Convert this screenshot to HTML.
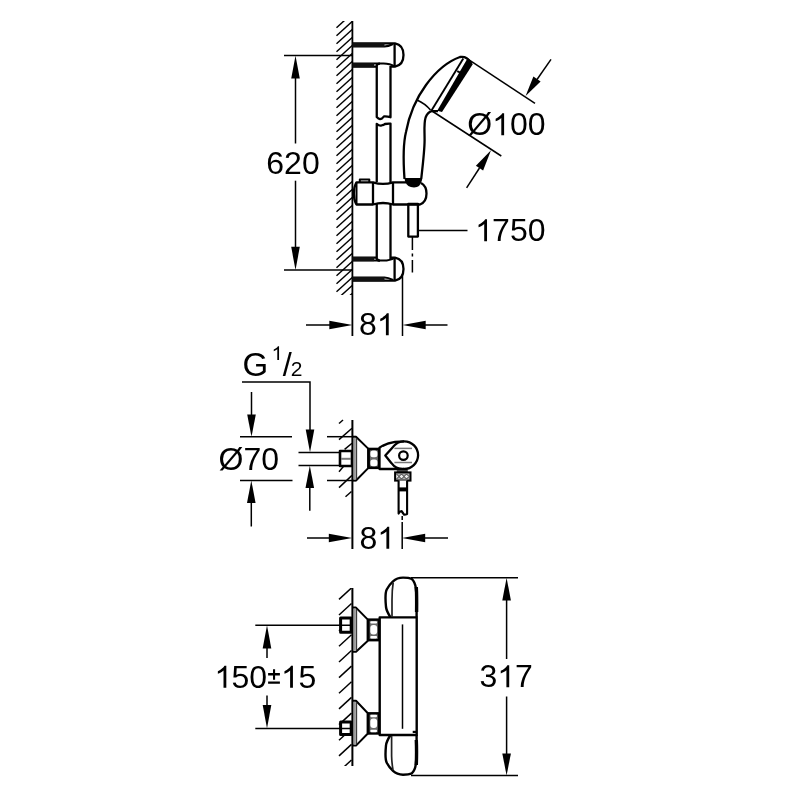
<!DOCTYPE html>
<html><head><meta charset="utf-8">
<style>
html,body{margin:0;padding:0;background:#fff;}
svg{display:block;will-change:transform;filter:blur(0.4px);}
text{font-family:"Liberation Sans",sans-serif;fill:#000;}
.d{stroke:#000;stroke-width:1.5;fill:none;}
.o{stroke:#000;stroke-width:2.3;fill:none;stroke-linejoin:round;}
.w{fill:#fff;}
.h{stroke:#000;stroke-width:1.45;fill:none;}
.a{fill:#000;stroke:none;}
.g{stroke:#777;stroke-width:1.5;fill:none;}
</style></head>
<body>
<svg width="800" height="800" viewBox="0 0 800 800">
<defs>
<clipPath id="hc1"><rect x="330" y="21" width="22.5" height="274"/></clipPath>
<clipPath id="hc3"><rect x="330" y="588" width="22.5" height="178"/></clipPath>
</defs>

<!-- ===== TOP: shower rail ===== -->
<g clip-path="url(#hc1)" class="h">
<line x1="336.5" y1="11.7" x2="352.5" y2="-2.8"/>
<line x1="336.5" y1="19.7" x2="352.5" y2="5.2"/>
<line x1="336.5" y1="27.7" x2="352.5" y2="13.2"/>
<line x1="336.5" y1="35.7" x2="352.5" y2="21.2"/>
<line x1="336.5" y1="43.7" x2="352.5" y2="29.2"/>
<line x1="336.5" y1="51.7" x2="352.5" y2="37.2"/>
<line x1="336.5" y1="59.7" x2="352.5" y2="45.2"/>
<line x1="336.5" y1="67.7" x2="352.5" y2="53.2"/>
<line x1="336.5" y1="75.7" x2="352.5" y2="61.2"/>
<line x1="336.5" y1="83.7" x2="352.5" y2="69.2"/>
<line x1="336.5" y1="91.7" x2="352.5" y2="77.2"/>
<line x1="336.5" y1="99.7" x2="352.5" y2="85.2"/>
<line x1="336.5" y1="107.7" x2="352.5" y2="93.2"/>
<line x1="336.5" y1="115.7" x2="352.5" y2="101.2"/>
<line x1="336.5" y1="123.7" x2="352.5" y2="109.2"/>
<line x1="336.5" y1="131.7" x2="352.5" y2="117.2"/>
<line x1="336.5" y1="139.7" x2="352.5" y2="125.2"/>
<line x1="336.5" y1="147.7" x2="352.5" y2="133.2"/>
<line x1="336.5" y1="155.7" x2="352.5" y2="141.2"/>
<line x1="336.5" y1="163.7" x2="352.5" y2="149.2"/>
<line x1="336.5" y1="171.7" x2="352.5" y2="157.2"/>
<line x1="336.5" y1="179.7" x2="352.5" y2="165.2"/>
<line x1="336.5" y1="187.7" x2="352.5" y2="173.2"/>
<line x1="336.5" y1="195.7" x2="352.5" y2="181.2"/>
<line x1="336.5" y1="203.7" x2="352.5" y2="189.2"/>
<line x1="336.5" y1="211.7" x2="352.5" y2="197.2"/>
<line x1="336.5" y1="219.7" x2="352.5" y2="205.2"/>
<line x1="336.5" y1="227.7" x2="352.5" y2="213.2"/>
<line x1="336.5" y1="235.7" x2="352.5" y2="221.2"/>
<line x1="336.5" y1="243.7" x2="352.5" y2="229.2"/>
<line x1="336.5" y1="251.7" x2="352.5" y2="237.2"/>
<line x1="336.5" y1="259.7" x2="352.5" y2="245.2"/>
<line x1="336.5" y1="267.7" x2="352.5" y2="253.2"/>
<line x1="336.5" y1="275.7" x2="352.5" y2="261.2"/>
<line x1="336.5" y1="283.7" x2="352.5" y2="269.2"/>
<line x1="336.5" y1="291.7" x2="352.5" y2="277.2"/>
<line x1="336.5" y1="299.7" x2="352.5" y2="285.2"/>
<line x1="336.5" y1="307.7" x2="352.5" y2="293.2"/>
</g>
<line class="o" x1="352.4" y1="21" x2="352.4" y2="336" style="stroke-width:1.8"/>

<!-- 620 dimension -->
<line class="d" x1="284" y1="55.4" x2="352" y2="55.4"/>
<line class="d" x1="284" y1="270" x2="352" y2="270"/>
<line class="d" x1="295.5" y1="70" x2="295.5" y2="143.5"/>
<line class="d" x1="295.5" y1="180.7" x2="295.5" y2="255"/>
<polygon class="a" points="295.5,55.4 291.2,78.5 299.8,78.5"/>
<polygon class="a" points="295.5,270 291.2,246.8 299.8,246.8"/>
<text x="266.3" y="173.8" font-size="32">620</text>

<!-- top bracket -->
<path class="o" d="M352.4,43.4 H395 Q403.5,45 403.5,55 Q403.5,65 395,66.6 H390.5 M376.75,66.6 H352.4"/>
<line class="o" x1="394.6" y1="43.4" x2="394.6" y2="66.6"/>
<path class="o" d="M352.4,46.6 H384.5 Q388,46.6 393,44" style="stroke-width:2"/>
<path class="o" d="M352.4,45 H384.5" style="stroke-width:4.2;stroke:#111"/>
<path class="o" d="M352.4,63.6 H383.5 Q390,63.6 394.6,66.6" style="stroke-width:2"/>
<path class="o" d="M352.4,65.1 H374" style="stroke-width:4.2;stroke:#111"/>

<!-- rail -->
<path class="o" d="M380,63.6 Q376.75,63.6 376.75,66 V117 Q378.5,119 380,119.2 Q382,119 384,116.4 Q387,116.2 390.5,117.2 V66"/>
<path class="o" d="M376.75,182 V123.8 Q379,125.8 381,125.6 Q383,125.3 385,124 Q388,123.4 390.5,123.6 V182"/>
<path class="o" d="M376.75,204 V258.5 Q377.5,260.6 380,260.6"/>
<line class="o" x1="390.5" y1="204" x2="390.5" y2="259.5"/>

<!-- bottom bracket -->
<path class="o" d="M376.75,257.6 H352.4 M390.5,257.6 H395 Q403.5,259.2 403.5,269 Q403.5,279 395,280.6 H352.4"/>
<line class="o" x1="394.6" y1="257.6" x2="394.6" y2="280.6"/>
<path class="o" d="M352.4,260.6 H383.5 Q390,260.6 394.6,257.6" style="stroke-width:2"/>
<path class="o" d="M352.4,259.1 H374" style="stroke-width:4.2;stroke:#111"/>
<path class="o" d="M352.4,277.5 H384.5 Q388,277.5 393,280" style="stroke-width:2"/>
<path class="o" d="M352.4,279.1 H384.5" style="stroke-width:4.2;stroke:#111"/>

<!-- slider -->
<path class="o w" d="M406,182.3 H393 Q383,185.6 373,182.3 H356.5 Q353.8,187 353.8,193.5 Q353.8,200 356.5,204.5 H373 Q383,201.5 393,204.5 H408.5 V204.5 H417.5 H420 Q426.5,202 426.5,193.5 Q426.5,186 421,183"/>
<line class="o" x1="356.5" y1="182.3" x2="356.5" y2="204.5" style="stroke-width:2"/>
<line class="o" x1="373" y1="182.3" x2="373" y2="204.5"/>
<line class="o" x1="393" y1="182.3" x2="393" y2="204.5"/>
<path class="o" d="M359.8,182 V179.6 H369.3 V182" style="stroke-width:2"/>
<path class="a" d="M404.5,178 H422 L422,180 Q420.5,187.5 414,187.5 Q407,187.5 405,181 Z"/>
<!-- hose connector -->
<rect class="o" x="408.3" y="204" width="9.6" height="32.6"/>
<line class="d" x1="418" y1="230.4" x2="467.5" y2="230.4"/>
<path class="d" d="M412.4,237 V250 M412.4,253.5 V256.5 M412.4,260 V272.5"/>
<path class="a" transform="translate(475.10,241.2) scale(0.015625,-0.015625)" d="M763,0 L583,0 L583,1098 Q518,1038 412,979 Q306,920 221,890 L221,1057 Q372,1125 485,1221 Q598,1318 645,1409 L763,1409 Z"/><text x="492.10" y="241.2" font-size="32">750</text>

<!-- handle + head -->
<path class="o" d="M404.5,179 C403.3,162 403.5,142 406,132 C409,116 415,100 426,85 C434,74 446,62 460,57 Q467,56 470,62"/>
<path class="o" d="M421.2,179 C422.8,165 424.6,150 424.6,140 C424.6,130 423.8,123 425.6,117.5 Q427.5,112.5 431.5,111.2 H438"/>
<line class="o" x1="463.3" y1="58.5" x2="431.5" y2="110.5" style="stroke-width:1.9"/>
<path class="a" d="M467,59.3 Q472,60 472.6,64.5 L442,112 L437.2,110.8 Z"/>
<line class="o" x1="457.2" y1="71.2" x2="463" y2="74" style="stroke-width:1.9"/>
<path class="o" d="M417,100 Q425,103.5 430.5,110" style="stroke-width:1.6"/>

<!-- d100 dimension -->
<line class="d" x1="467.5" y1="58.8" x2="535" y2="103.4"/>
<line class="d" x1="432" y1="111" x2="501.3" y2="156"/>
<line class="d" x1="551" y1="59.4" x2="537" y2="79.5"/>
<polygon class="a" points="525.6,96 533.4,76.5 540.6,81.4"/>
<line class="d" x1="466.6" y1="187.8" x2="479.5" y2="168"/>
<polygon class="a" points="491,150.3 475.9,165.7 483.1,170.6"/>
<text x="467.30" y="135.2" font-size="32">Ø</text><path class="a" transform="translate(492.19,135.2) scale(0.015625,-0.015625)" d="M763,0 L583,0 L583,1098 Q518,1038 412,979 Q306,920 221,890 L221,1057 Q372,1125 485,1221 Q598,1318 645,1409 L763,1409 Z"/><text x="509.99" y="135.2" font-size="32">00</text>

<!-- 81 top dim -->
<line class="d" x1="402.5" y1="274" x2="402.5" y2="336"/>
<line class="d" x1="306" y1="325" x2="330" y2="325"/>
<polygon class="a" points="352.5,325 329.3,320.7 329.3,329.3"/>
<polygon class="a" points="402.5,325 425.7,320.7 425.7,329.3"/>
<line class="d" x1="425" y1="325" x2="447.5" y2="325"/>
<text x="359.00" y="335.2" font-size="32">8</text><path class="a" transform="translate(376.80,335.2) scale(0.015625,-0.015625)" d="M763,0 L583,0 L583,1098 Q518,1038 412,979 Q306,920 221,890 L221,1057 Q372,1125 485,1221 Q598,1318 645,1409 L763,1409 Z"/>

<!-- ===== MIDDLE ===== -->
<text x="242.5" y="375.8" font-size="33">G</text>
<path class="a" transform="translate(271.60,359.9) scale(0.009766,-0.009766)" d="M763,0 L583,0 L583,1098 Q518,1038 412,979 Q306,920 221,890 L221,1057 Q372,1125 485,1221 Q598,1318 645,1409 L763,1409 Z"/>
<text x="282.8" y="375.9" font-size="32.5">/</text>
<text x="290.7" y="375.6" font-size="21">2</text>
<path class="d" d="M242,381.9 H310 V430"/>
<polygon class="a" points="310,452.3 305.7,429.5 314.3,429.5"/>
<line class="d" x1="309.8" y1="488" x2="309.8" y2="510.7"/>
<polygon class="a" points="309.8,465.8 305.5,488 314.1,488"/>
<line class="d" x1="251.5" y1="392" x2="251.5" y2="415"/>
<polygon class="a" points="251.5,436.7 247.2,414.5 255.8,414.5"/>
<line class="d" x1="251.3" y1="503" x2="251.3" y2="526.5"/>
<polygon class="a" points="251.3,480.5 247,503 255.6,503"/>
<line class="d" x1="240" y1="436.7" x2="292" y2="436.7"/>
<line class="d" x1="327" y1="436.7" x2="356" y2="436.7"/>
<line class="d" x1="240" y1="480.5" x2="292.5" y2="480.5"/>
<line class="d" x1="327" y1="480.5" x2="356" y2="480.5"/>
<line class="d" x1="298.5" y1="452.4" x2="340" y2="452.4"/>
<line class="d" x1="298.5" y1="465.4" x2="340" y2="465.4"/>
<text x="218.6" y="469.9" font-size="32">Ø70</text>

<!-- mid wall -->
<g class="h">
<line x1="339" y1="423.5" x2="343" y2="420"/>
<line x1="339" y1="439.6" x2="352" y2="428.3"/>
<line x1="344.6" y1="449.4" x2="352" y2="443.3"/>
<line x1="339" y1="471.7" x2="343.4" y2="466.5"/>
<line x1="339" y1="487.6" x2="352" y2="475.4"/>
<line x1="345.5" y1="496.7" x2="351.5" y2="491.5"/>
</g>
<!-- nut -->
<rect class="o w" x="340" y="451" width="12" height="15" style="stroke-width:2.6"/>
<line class="g" x1="341" y1="458.8" x2="351" y2="458.8" style="stroke-width:2"/>
<!-- escutcheon -->
<path class="o w" d="M352.4,436.7 H356 L368.2,448.6 V468.1 L356,480.5 H352.4" style="stroke-width:2"/>
<line x1="354.7" y1="438" x2="354.7" y2="479.5" stroke="#9a9a9a" stroke-width="2.4"/><line x1="356.6" y1="438" x2="356.6" y2="479.5" stroke="#333" stroke-width="1.1"/>
<line class="o" x1="352.4" y1="420" x2="352.4" y2="549" style="stroke-width:2"/>
<!-- nut2 -->
<rect x="368.6" y="449" width="10.6" height="18.8" fill="#6a6a6a" stroke="#000" stroke-width="2.6"/>
<rect x="370.4" y="450.6" width="7" height="6.6" rx="2.5" fill="#fff"/>
<rect x="370.4" y="459.6" width="7" height="6.6" rx="2.5" fill="#fff"/>
<!-- body -->
<path class="o w" d="M379.5,447.8 Q386,443 395,441.8 Q400,441.3 404,441.3 A14,14 0 0 1 418.1,455.5 A14,14 0 0 1 404,469 H379.5 Z"/>
<path class="o" d="M404,441.3 A14,14 0 0 0 393,446.9 L385.3,455.6 L391.5,463.2 A14,14 0 0 0 404,469"/>
<line class="g" x1="394.4" y1="448.4" x2="412" y2="448.4"/>
<line class="g" x1="394.4" y1="462.5" x2="412" y2="462.5"/>
<circle class="o" cx="403.4" cy="455.6" r="4.3" style="stroke-width:2.2"/>
<rect x="396.8" y="470" width="11" height="2.4" fill="#444"/>
<rect x="395.1" y="472.4" width="15.4" height="8.2" fill="#b0b0b0" stroke="#000" stroke-width="2"/>
<path d="M396.5,474 L399,476.5 L396.5,479 M399,476.5 L401.5,474 L404,476.5 L401.5,479 Z M404,476.5 L406.5,474 L409,476.5 L406.5,479 Z" stroke="#333" stroke-width="1" fill="#eee"/>
<path class="o w" d="M398.6,480.6 V513.6 Q400,511 401.5,511 Q403,513 404.1,514.8 Q406,514.5 407.1,514 V480.6" style="stroke-width:2.1"/>
<rect class="a" x="398.6" y="487.4" width="8.5" height="4"/>
<path class="d" d="M402.2,516 V520 M402.2,522 V549"/>
<!-- 81 mid dim -->
<line class="d" x1="307" y1="538" x2="330" y2="538"/>
<polygon class="a" points="352.2,538 328.8,533.7 328.8,542.3"/>
<polygon class="a" points="402,538 425.2,533.7 425.2,542.3"/>
<line class="d" x1="425" y1="538" x2="448" y2="538"/>
<text x="359.50" y="548.7" font-size="32">8</text><path class="a" transform="translate(377.30,548.7) scale(0.015625,-0.015625)" d="M763,0 L583,0 L583,1098 Q518,1038 412,979 Q306,920 221,890 L221,1057 Q372,1125 485,1221 Q598,1318 645,1409 L763,1409 Z"/>

<!-- ===== BOTTOM: thermostat ===== -->
<g class="h" clip-path="url(#hc3)">
<line x1="339" y1="583.8" x2="351.5" y2="572.2"/>
<line x1="339" y1="599.4" x2="351.5" y2="587.9"/>
<line x1="339" y1="615.0" x2="351.5" y2="603.5"/>
<line x1="339" y1="630.7" x2="351.5" y2="619.2"/>
<line x1="339" y1="646.3" x2="351.5" y2="634.8"/>
<line x1="339" y1="662.0" x2="351.5" y2="650.5"/>
<line x1="339" y1="677.6" x2="351.5" y2="666.1"/>
<line x1="339" y1="693.3" x2="351.5" y2="681.8"/>
<line x1="339" y1="708.9" x2="351.5" y2="697.4"/>
<line x1="339" y1="724.6" x2="351.5" y2="713.1"/>
<line x1="339" y1="740.2" x2="351.5" y2="728.7"/>
<line x1="339" y1="755.9" x2="351.5" y2="744.4"/>
<line x1="339" y1="771.5" x2="351.5" y2="760.0"/>
<line x1="339" y1="787.2" x2="351.5" y2="775.7"/>
</g>
<!-- leaders -->
<!-- nuts -->
<rect class="o w" x="340.6" y="618" width="10.6" height="14.3" style="stroke-width:3"/>
<rect class="o w" x="340.6" y="721.9" width="10.6" height="12.7" style="stroke-width:3"/>
<line class="d" x1="255.3" y1="625.3" x2="350" y2="625.3"/>
<line class="d" x1="255.3" y1="728.4" x2="350" y2="728.4"/>
<!-- escutcheons -->
<path class="o w" d="M352.4,607.6 H356 L367.6,619.4 V641 L356,651.8 H352.4" style="stroke-width:2"/>
<line x1="354.7" y1="609" x2="354.7" y2="650.5" stroke="#9a9a9a" stroke-width="2.4"/><line x1="356.6" y1="609" x2="356.6" y2="650.5" stroke="#333" stroke-width="1.1"/>
<path class="o w" d="M352.4,700.8 H356 L367.6,713 V733.8 L356,745.6 H352.4" style="stroke-width:2"/>
<line x1="354.7" y1="702" x2="354.7" y2="744.5" stroke="#9a9a9a" stroke-width="2.4"/><line x1="356.6" y1="702" x2="356.6" y2="744.5" stroke="#333" stroke-width="1.1"/>
<line class="o" x1="352.4" y1="588" x2="352.4" y2="766" style="stroke-width:2"/>
<!-- nut2 -->
<rect x="368.4" y="619.6" width="10.6" height="20.6" fill="#6a6a6a" stroke="#000" stroke-width="2.4"/>
<rect x="370.3" y="621.2" width="6.8" height="2.4" rx="1.1" fill="#fff"/>
<rect x="370.3" y="624.9" width="6.8" height="9.6" rx="3" fill="#fff"/>
<rect x="370.3" y="636" width="6.8" height="2.4" rx="1.1" fill="#fff"/>
<rect x="368.4" y="713.3" width="10.6" height="20.2" fill="#6a6a6a" stroke="#000" stroke-width="2.4"/>
<rect x="370.3" y="714.8" width="6.8" height="2.4" rx="1.1" fill="#fff"/>
<rect x="370.3" y="718.6" width="6.8" height="9.4" rx="3" fill="#fff"/>
<rect x="370.3" y="729.8" width="6.8" height="2.4" rx="1.1" fill="#fff"/>
<!-- body -->
<rect class="o w" x="379.7" y="617.4" width="37" height="117.6" style="stroke-width:2.4"/>
<line class="d" x1="402.5" y1="624.4" x2="402.5" y2="728.8"/>
<line class="o" x1="412.7" y1="731.9" x2="417" y2="731.9" style="stroke-width:2.2"/>
<!-- knobs -->
<path class="o" d="M390.5,617.3 Q386.5,611 386,607 Q385.5,602 385.5,598 Q385.5,592 386.75,589.5 Q389,585 393,581.4 Q397,577.6 403,577.6 Q409,577.6 411.75,578.9 Q415,582 415.8,588 Q416.6,595 416.6,600 V617.3" style="stroke-width:2.4"/>
<path class="o" d="M416.3,587 Q416.8,595 416.6,612" style="stroke-width:3.4"/>
<path d="M393.2,582.5 Q392,590 392,600 V617" stroke="#222" stroke-width="1.7" fill="none"/>
<path class="o" d="M390.5,735 Q386.5,741.3 386,745.3 Q385.5,750.3 385.5,754.3 Q385.5,760.3 386.75,762.8 Q389,767.3 393,770.9 Q397,774.7 403,774.7 Q409,774.7 411.75,773.4 Q415,770.3 415.8,764.3 Q416.6,757.3 416.6,752.3 V735" style="stroke-width:2.4"/>
<path class="o" d="M416.3,740 Q416.8,752 416.3,765" style="stroke-width:3.4"/>
<path d="M391.6,736 V756 Q391.8,763 393,770" stroke="#222" stroke-width="1.7" fill="none"/>

<!-- 317 dim -->
<line class="d" x1="411" y1="577.7" x2="518" y2="577.7"/>
<line class="d" x1="411" y1="775.4" x2="518" y2="775.4"/>
<line class="d" x1="506.6" y1="600" x2="506.6" y2="659"/>
<line class="d" x1="506.6" y1="696.5" x2="506.6" y2="754"/>
<polygon class="a" points="506.6,577.7 502.3,600.5 510.9,600.5"/>
<polygon class="a" points="506.6,775.4 502.3,753.5 510.9,753.5"/>
<text x="479.50" y="687.3" font-size="32">3</text><path class="a" transform="translate(497.30,687.3) scale(0.015625,-0.015625)" d="M763,0 L583,0 L583,1098 Q518,1038 412,979 Q306,920 221,890 L221,1057 Q372,1125 485,1221 Q598,1318 645,1409 L763,1409 Z"/><text x="515.09" y="687.3" font-size="32">7</text>

<!-- 150±15 dim -->
<line class="d" x1="267" y1="648" x2="267" y2="658"/>
<line class="d" x1="267" y1="695.6" x2="267" y2="706"/>
<polygon class="a" points="267,625.3 262.7,648.5 271.3,648.5"/>
<polygon class="a" points="267,728.4 262.7,705 271.3,705"/>
<path class="a" transform="translate(214.4,687.7) scale(0.015625,-0.015625)" d="M763,0 L583,0 L583,1098 Q518,1038 412,979 Q306,920 221,890 L221,1057 Q372,1125 485,1221 Q598,1318 645,1409 L763,1409 Z"/><text x="231.4" y="687.7" font-size="32">5</text><text x="249.35" y="687.7" font-size="32">0</text><path class="a" d="M268.1,673.1 h11.8 v2.4 h-11.8 Z M273,669.2 h2.1 v10.5 h-2.1 Z M268.1,681.4 h11.8 v2.4 h-11.8 Z"/><path class="a" transform="translate(281.0,687.7) scale(0.015625,-0.015625)" d="M763,0 L583,0 L583,1098 Q518,1038 412,979 Q306,920 221,890 L221,1057 Q372,1125 485,1221 Q598,1318 645,1409 L763,1409 Z"/><text x="298.5" y="687.7" font-size="32">5</text>
</svg>
</body></html>
